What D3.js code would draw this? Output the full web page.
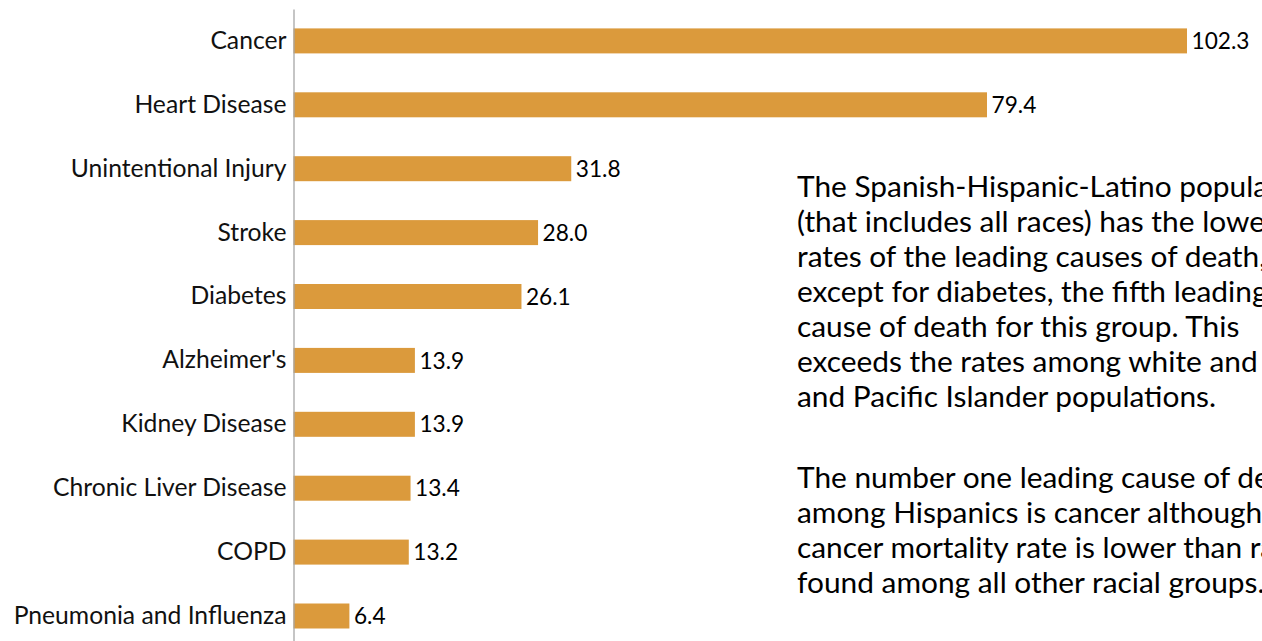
<!DOCTYPE html>
<html>
<head>
<meta charset="utf-8">
<script src="https://cdn.jsdelivr.net/npm/d3@7"></script>
<style>
  html, body { margin: 0; padding: 0; background: #fff; overflow: hidden; }
  svg { display: block; }
  text { font-family: Lato, "Noto Sans", sans-serif; }
</style>
</head>
<body>
<svg id="chart" width="1262" height="641"></svg>
<script>
// ---- data ----
const categories = ["Cancer", "Heart Disease", "Unintentional Injury", "Stroke", "Diabetes",
  "Alzheimer's", "Kidney Disease", "Chronic Liver Disease", "COPD", "Pneumonia and Influenza"];
const values = [102.3, 79.4, 31.8, 28.0, 26.1, 13.9, 13.9, 13.4, 13.2, 6.4];
const paragraph1 = [
  "The Spanish-Hispanic-Latino population",
  "(that includes all races) has the lowest",
  "rates of the leading causes of death,",
  "except for diabetes, the fifth leading",
  "cause of death for this group. This",
  "exceeds the rates among white and Asian",
  "and Pacific Islander populations."
];
const paragraph2 = [
  "The number one leading cause of death",
  "among Hispanics is cancer although the",
  "cancer mortality rate is lower than rates",
  "found among all other racial groups."
];

// ---- layout ----
const W = 1262, H = 641;
const svg = d3.select("#chart");
const barColor = "#DB9A3C";

const x = d3.scaleLinear().domain([0, 102.3]).range([293.5, 1187]);
const y = d3.scaleBand().domain(categories).range([8.95, 647.95])
  .paddingInner(0.6088).paddingOuter(0.3044);

// font fitting helper
function fitSize(str, targetWidth, base) {
  const t = svg.append("text").attr("font-size", base).text(str);
  const w = t.node().getComputedTextLength();
  t.remove();
  return base * targetWidth / w;
}
const labelSize = fitSize("Unintentional Injury", 216, 20);
const valueSize = fitSize("102.3", 58, 20);
const paraSize = fitSize("exceeds the rates among white and", 461, 24);

// bars
svg.append("g").selectAll("rect").data(categories).join("rect")
  .attr("x", x(0))
  .attr("y", d => y(d))
  .attr("width", (d, i) => x(values[i]) - x(0))
  .attr("height", y.bandwidth())
  .attr("fill", barColor);

// value labels
svg.append("g").selectAll("text").data(categories).join("text")
  .attr("x", (d, i) => x(values[i]) + 4.5)
  .attr("y", d => y(d) + y.bandwidth() / 2)
  .attr("dy", "0.36em")
  .attr("font-size", valueSize)
  .attr("fill", "#000")
  .text((d, i) => values[i].toFixed(1));

// axis
const axis = svg.append("g")
  .attr("transform", `translate(${x(0)},0)`)
  .call(d3.axisLeft(y).tickSize(0).tickSizeOuter(0).tickPadding(7));
axis.select(".domain").attr("stroke", "#A6A6A6").attr("stroke-width", 1.3);
axis.selectAll(".tick text")
  .attr("font-size", labelSize)
  .attr("font-family", "Lato, 'Noto Sans', sans-serif")
  .attr("fill", "#111");

// paragraphs
const para = svg.append("g").attr("font-size", paraSize).attr("fill", "#000");
para.selectAll("text.p1").data(paragraph1).join("text").attr("class", "p1")
  .attr("x", 797).attr("y", (d, i) => 197.3 + i * 35).text(d => d);
para.selectAll("text.p2").data(paragraph2).join("text").attr("class", "p2")
  .attr("x", 797).attr("y", (d, i) => 488.3 + i * 35).text(d => d);
</script>
</body>
</html>
